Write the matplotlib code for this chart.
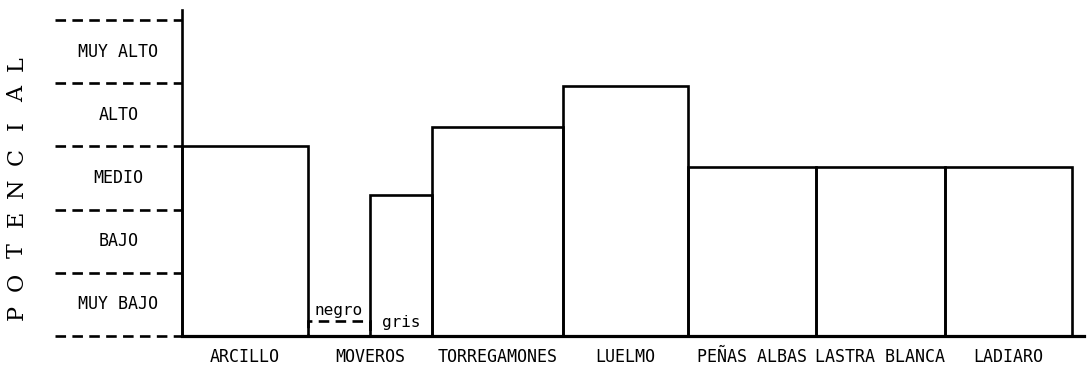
import matplotlib.pyplot as plt

# potential level per site (0 = bottom, 1 unit = one class band)
sites = ['ARCILLO', 'MOVEROS', 'TORREGAMONES', 'LUELMO',
         'PEÑAS ALBAS', 'LASTRA BLANCA', 'LADIARO']
values = [3.0, None, 3.3, 3.95, 2.68, 2.67, 2.67]
moveros_negro = 0.24
moveros_gris = 2.23
levels = ['MUY BAJO', 'BAJO', 'MEDIO', 'ALTO', 'MUY ALTO']
ylabel = 'POTENCIAL'

# bar edges along the x axis (layout, bars are not all equally wide)
edges = [0, 0.99, 1.965, 3.0, 3.98, 4.99, 6.0, 7.0]

mono = 'DejaVu Sans Mono'
lw = 1.9
dash = (0, (4, 2.4))

fig = plt.figure(figsize=(10.87, 3.70), dpi=100)
ax = fig.add_axes([0, 0, 1, 1])
ax.set_xlim(-1.432, 7.12)
ax.set_ylim(-0.538, 5.316)
ax.axis('off')

# bars
for i, v in enumerate(values):
    left, right = edges[i], edges[i + 1]
    if v is not None:
        ax.bar(left, v, width=right - left, align='edge', fill=False,
               edgecolor='black', linewidth=lw)
    else:
        # MOVEROS split: negro (dashed) and gris
        mid = (left + right) / 2
        ax.bar(left, moveros_negro, width=mid - left, align='edge', fill=False,
               edgecolor='black', linewidth=lw, linestyle=dash)
        ax.bar(mid, moveros_gris, width=right - mid, align='edge', fill=False,
               edgecolor='black', linewidth=lw)
        ax.text((left + mid) / 2, moveros_negro + 0.05, 'negro', ha='center',
                va='bottom', fontsize=11.5, family=mono)
        ax.text((mid + right) / 2, 0.22, 'gris', ha='center', va='center',
                fontsize=11.5, family=mono)
    ax.text((left + right) / 2, -0.33, sites[i], ha='center', va='center',
            fontsize=12, family=mono)

# axis and baseline
ax.plot([0, 0], [0, 5.16], color='black', lw=lw)
ax.plot([0, 7.1], [0, 0], color='black', lw=2.3)

# class bands
for k in range(len(levels) + 1):
    ax.plot([-1.0, 0], [k, k], color='black', lw=lw, linestyle=dash)
for k, name in enumerate(levels):
    ax.text(-0.5, k + 0.5, name, ha='center', va='center',
            fontsize=12, family=mono)

# spaced vertical title
for j, ch in enumerate(ylabel):
    ax.text(-1.30, 0.364 + j * 0.494, ch, ha='center', va='center',
            rotation=90, fontsize=16, family='DejaVu Serif')

fig.savefig('out.png', dpi=100)
